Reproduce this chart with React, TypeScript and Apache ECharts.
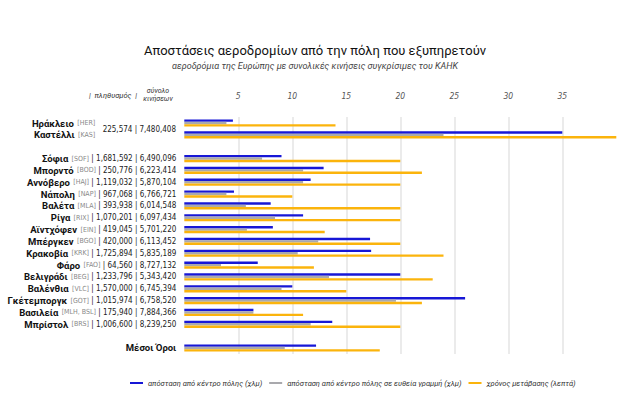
import React, { useEffect, useRef } from 'react';
import * as echarts from 'echarts';

const airports = ['Ηράκλειο', 'Καστέλλι', 'Σόφια', 'Μπορντό', 'Αννόβερο', 'Νάπολη', 'Βαλέτα', 'Ρίγα', 'Αϊντχόφεν', 'Μπέργκεν', 'Κρακοβία', 'Φάρο', 'Βελιγράδι', 'Βαλένθια', 'Γκέτεμποργκ', 'Βασιλεία', 'Μπρίστολ', 'Μέσοι Όροι'];
const codes = ['HER', 'KAS', 'SOF', 'BOD', 'HAJ', 'NAP', 'MLA', 'RIX', 'EIN', 'BGO', 'KRK', 'FAO', 'BEG', 'VLC', 'GOT', 'MLH, BSL', 'BRS', ''];
const population = [225574, 225574, 1681592, 250776, 1119032, 967068, 393938, 1070201, 419045, 420000, 1725894, 64560, 1233796, 1570000, 1015974, 175940, 1006600, null];
const movements = [7480408, 7480408, 6490096, 6223414, 5870104, 6766721, 6014548, 6097434, 5701220, 6113452, 5835189, 8727132, 5343420, 6745394, 6758520, 7884366, 8239250, null];
const roadKm = [4.5, 35, 9, 12.9, 11.7, 4.6, 8, 11, 8.2, 17.2, 17.3, 6.8, 20, 10, 26, 6.4, 13.7, 12.2];
const straightKm = [3.9, 24, 7.2, 11, 11, 3.9, 5.7, 8.4, 5.8, 12.4, 10.5, 3.4, 13.4, 9, 19.6, 6.4, 11.7, 9.3];
const travelMin = [14, 40, 20, 22, 20, 10, 20, 20, 13, 20, 24, 12, 23, 15, 22, 11, 20, 18.1];
const xTicks = [5, 10, 15, 20, 25, 30, 35];
const seriesNames = ['απόσταση από κέντρο πόλης (χλμ)', 'απόσταση από κέντρο πόλης σε ευθεία γραμμή (χλμ)', 'χρόνος μετάβασης (λεπτά)'];

// row order on the axis: negative = empty spacer row
const layout = [0, 1, -1, 2, 3, 4, 5, 6, 7, 8, 9, 10, 11, 12, 13, 14, 15, 16, -2, 17];
// Heraklion & Kastelli share one city (population / movements printed once)
const sharedRows = [0, 1];

const fmt = (n: number) => n.toLocaleString('en-US');

export default function App() {
  const ref = useRef<HTMLDivElement>(null);
  useEffect(() => {
    document.body.style.margin = '0';
    const chart = echarts.init(ref.current!, null, { renderer: 'svg' });
    const categories = layout.map((i, k) => (i < 0 ? ' '.repeat(k) : airports[i]));
    const pick = (arr: number[]) => layout.map((i) => (i < 0 ? null : arr[i]));
    const numFont = "'DejaVu Sans Condensed', sans-serif";
    const rich = {
      n: { fontFamily: 'Roboto', fontWeight: 'bold', fontSize: 9.5, color: '#111' },
      c: { fontFamily: numFont, fontSize: 7, color: '#888' },
      v: { fontFamily: numFont, fontSize: 8, color: '#222' },
    };
    const bar = (name: string, data: (number | null)[], color: string) => ({
      name,
      type: 'bar',
      data,
      barWidth: 2.4,
      barGap: '0%',
      itemStyle: { color },
      emphasis: { disabled: true },
    });
    const yBase = {
      type: 'category',
      data: categories,
      inverse: true,
      position: 'left',
      axisLine: { show: false },
      axisTick: { show: false },
      splitLine: { show: false },
    };
    chart.setOption({
      animation: false,
      title: {
        text: 'Αποστάσεις αεροδρομίων από την πόλη που εξυπηρετούν',
        subtext: 'αεροδρόμια της Ευρώπης με συνολικές κινήσεις συγκρίσιμες του ΚΑΗΚ',
        left: 'center',
        top: 39,
        itemGap: 4,
        textStyle: { fontFamily: 'Roboto', fontSize: 13, fontWeight: 'normal', color: '#111' },
        subtextStyle: { fontFamily: 'Roboto', fontSize: 9, fontStyle: 'italic', color: '#444' },
      },
      legend: {
        data: seriesNames,
        left: 125,
        top: 374,
        icon: 'rect',
        itemWidth: 13,
        itemHeight: 2,
        itemGap: 7,
        textStyle: { fontFamily: 'Roboto', fontSize: 7.5, fontStyle: 'italic', color: '#333' },
      },
      grid: { left: 184.3, top: 117.1, width: 432, height: 236.8, containLabel: false, outerBoundsMode: 'none' },
      xAxis: {
        type: 'value',
        position: 'top',
        min: 0,
        max: 40,
        interval: 5,
        axisLine: { show: false },
        axisTick: { show: false },
        axisLabel: {
          margin: 17,
          fontSize: 8.5,
          fontStyle: 'italic',
          fontFamily: numFont,
          color: '#555',
          formatter: (v: number) => (xTicks.includes(v) ? String(v) : ''),
        },
        splitLine: { show: true, showMinLine: false, showMaxLine: false, lineStyle: { color: '#e4e4e4', width: 1.5 } },
      },
      yAxis: [
        {
          ...yBase,
          axisLabel: {
            margin: 8,
            interval: 0,
            formatter: (_v: string, idx: number) => {
              const i = layout[idx];
              if (i < 0 || sharedRows.includes(i)) return '';
              if (!codes[i]) return `{n|${airports[i]}}`;
              return `{n|${airports[i]}} {c|[${codes[i]}]}{v| | ${fmt(population[i] as number)} | ${fmt(movements[i] as number)}}`;
            },
            rich,
          },
        },
        {
          ...yBase,
          axisLabel: {
            margin: 89,
            interval: 0,
            formatter: (_v: string, idx: number) => {
              const i = layout[idx];
              if (!sharedRows.includes(i)) return '';
              return `{n|${airports[i]}} {c|[${codes[i]}]}`;
            },
            rich,
          },
        },
      ],
      graphic: [
        {
          type: 'text',
          x: 176,
          y: 129,
          style: { text: `${fmt(population[0] as number)} | ${fmt(movements[0] as number)}`, align: 'right', verticalAlign: 'middle', font: `8px ${numFont}`, fill: '#222' },
        },
        {
          type: 'text',
          x: 113,
          y: 95,
          style: { text: '|  πληθυσμός  |', align: 'center', verticalAlign: 'middle', font: `italic 7.5px Roboto`, fill: '#333' },
        },
        {
          type: 'text',
          x: 158,
          y: 90.5,
          style: { text: 'σύνολο', align: 'center', verticalAlign: 'middle', font: `italic 7px Roboto`, fill: '#333' },
        },
        {
          type: 'text',
          x: 158,
          y: 98.5,
          style: { text: 'κινήσεων', align: 'center', verticalAlign: 'middle', font: `italic 7px Roboto`, fill: '#333' },
        },
      ],
      series: [
        bar(seriesNames[0], pick(roadKm), '#1717d6'),
        bar(seriesNames[1], pick(straightKm), '#a9a9ad'),
        bar(seriesNames[2], pick(travelMin), '#fbb40c'),
      ],
    });
    return () => chart.dispose();
  }, []);
  return <div ref={ref} style={{ width: 630, height: 420 }} />;
}
